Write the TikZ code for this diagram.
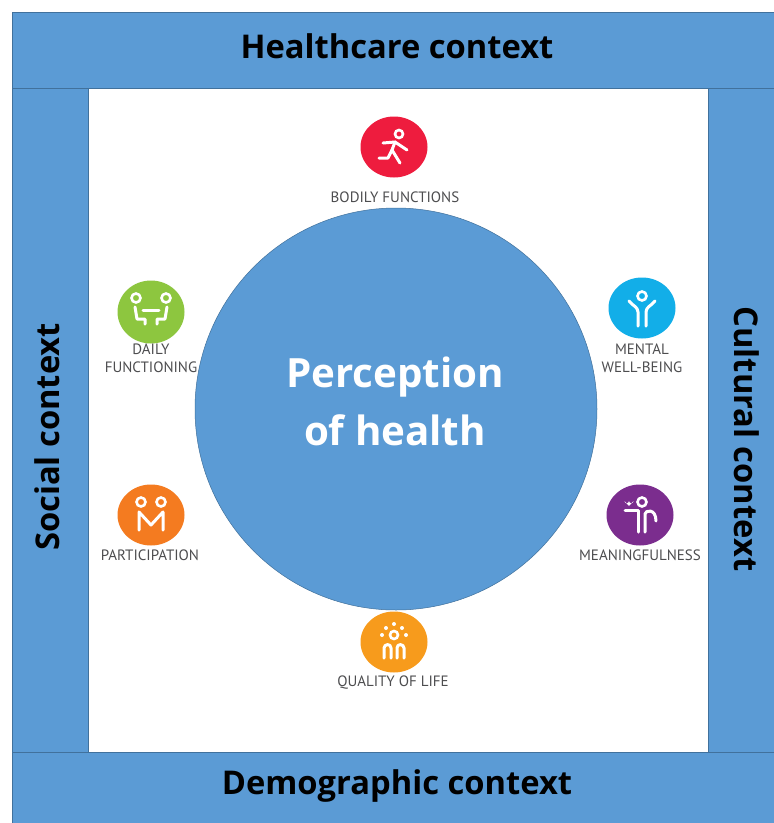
\documentclass[tikz,border=0pt]{standalone}
\usepackage{fontspec}
\usetikzlibrary{shapes.geometric}
\setmainfont{Open Sans}
\newfontfamily\labelfont{PT Sans}
\definecolor{barblue}{HTML}{5B9BD5}
\definecolor{baredge}{HTML}{41719C}
\definecolor{labelgray}{HTML}{4D4D4F}
\definecolor{runred}{HTML}{EE1C3E}
\definecolor{dailygreen}{HTML}{8DC63F}
\definecolor{mentalcyan}{HTML}{12AEE8}
\definecolor{partorange}{HTML}{F47B20}
\definecolor{meanpurple}{HTML}{7B2D8E}
\definecolor{lifeamber}{HTML}{F79B1C}
\tikzset{
  bar/.style={draw=baredge,line width=0.6pt,fill=barblue},
  context/.style={font=\fontsize{32.7}{33}\selectfont\bfseries,text=black,inner sep=0pt},
  title/.style={font=\fontsize{40.3}{40}\selectfont\bfseries,text=white,inner sep=0pt,anchor=base},
  disc/.style={ellipse,inner sep=0pt,minimum width=67pt,minimum height=61pt,fill=#1},
  caption/.style={font=\labelfont\fontsize{15}{18}\selectfont,text=labelgray,align=center,inner sep=0pt},
  glyph/.style={draw=white,line width=3pt,line cap=round,line join=round},
  ring/.style={draw=white,line width=2.6pt},
  runner/.pic={
    \draw [ring] (5,-13) circle (4);
    \draw [glyph] (-11,-4) -- (1,-5) -- (7,-1) -- (13,3);
    \draw [glyph] (1,-5) -- (-2,3) -- (6,16);
    \draw [glyph] (-2,3) -- (-6,11) -- (-15,11);
  },
  sitters/.pic={
    \draw [ring] (-15,-14) circle (4.5) (15,-14) circle (4.5);
    \draw [glyph] (-8,-2) -- (8,-2);
    \draw [glyph] (-16,-5) -- (-14,7) -- (-6,7) -- (-6,12);
    \draw [glyph] (16,-5) -- (14,7) -- (6,7) -- (6,12);
  },
  pair/.pic={
    \draw [ring] (-10,-13) circle (4.5) (10,-13) circle (4.5);
    \draw [glyph] (-12,15) -- (-12,-3) -- (0,10) -- (12,-3) -- (12,15);
  },
  raised/.pic={
    \draw [ring] (0,-12) circle (4.5);
    \draw [glyph] (-13,-7) .. controls (-9,-2) and (-4,-1) .. (-4,4) -- (-4,18);
    \draw [glyph] (13,-7) .. controls (9,-2) and (4,-1) .. (4,4) -- (4,18);
  },
  meaning/.pic={
    \draw [ring] (2,-13) circle (4.5);
    \fill [white] (-11,-9) -- (-15.5,-14) arc (180:0:2.25) arc (180:0:2.25) -- cycle;
    \draw [glyph] (-15,-5) -- (-2,-5) -- (-2,17);
    \draw [glyph] (5,17) -- (5,-1) .. controls (5,-5) and (16,-7) .. (16,6);
  },
  sunrise/.pic={
    \draw [ring] (0,-7) circle (4);
    \foreach \dx/\dy in {0/-18,-8/-14,8/-14,-12/-7,12/-7}
      \fill [white] (\dx,\dy) circle (2);
    \draw [glyph] (-10,16) -- (-10,6) .. controls (-10,2) and (-3,1) .. (-3,6) -- (-3,16);
    \draw [glyph] (10,16) -- (10,6) .. controls (10,2) and (3,1) .. (3,6) -- (3,16);
  }
}
\begin{document}
\begin{tikzpicture}[x=1pt,y=-1pt]
  \useasboundingbox (0,0) rectangle (774,823);
  \fill [white] (0,0) rectangle (774,823);

  % frame
  \draw [bar] (12,12) rectangle (774,88);
  \draw [bar] (12,88) rectangle (88,752);
  \draw [bar] (708,88) rectangle (774,752);
  \draw [bar] (12,752) rectangle (774,823);

  \node [context] (healthcare) at (397,46) {Healthcare context};
  \node [context] (demographic) at (397,786) {Demographic context};
  \node [context,rotate=90] (social) at (47,437) {Social context};
  \node [context,rotate=-90] (cultural) at (747,439) {Cultural context};

  % centre
  \node [circle,inner sep=0pt,minimum size=402pt,fill=barblue,draw=baredge,line width=0.5pt] (health) at (396,409) {};
  \node [title] (perception) at (395,387) {Perception};
  \node [title] (ofhealth) at (395,445) {of health};

  % outcomes
  \node [disc=runred] (bodily) at (394,147) {};
  \node [disc=dailygreen,minimum height=63pt] (daily) at (151,312) {};
  \node [disc=mentalcyan] (mental) at (642,308) {};
  \node [disc=partorange] (participation) at (151,515) {};
  \node [disc=meanpurple] (meaningful) at (640,515) {};
  \node [disc=lifeamber] (quality) at (394,642) {};

  \path (bodily.center) pic {runner};
  \path (daily.center) pic {sitters};
  \path (mental.center) pic {raised};
  \path (participation.center) pic {pair};
  \path (meaningful.center) pic {meaning};
  \path (quality.center) pic {sunrise};

  \node [caption] (bodilytext) at (395,197) {BODILY FUNCTIONS};
  \node [caption] (dailytext) at (151,358) {DAILY\\FUNCTIONING};
  \node [caption] (mentaltext) at (642,358) {MENTAL\\WELL-BEING};
  \node [caption] (participationtext) at (150,555) {PARTICIPATION};
  \node [caption] (meaningfultext) at (640,555) {MEANINGFULNESS};
  \node [caption] (qualitytext) at (393,683) {QUALITY OF LIFE};
\end{tikzpicture}
\end{document}
